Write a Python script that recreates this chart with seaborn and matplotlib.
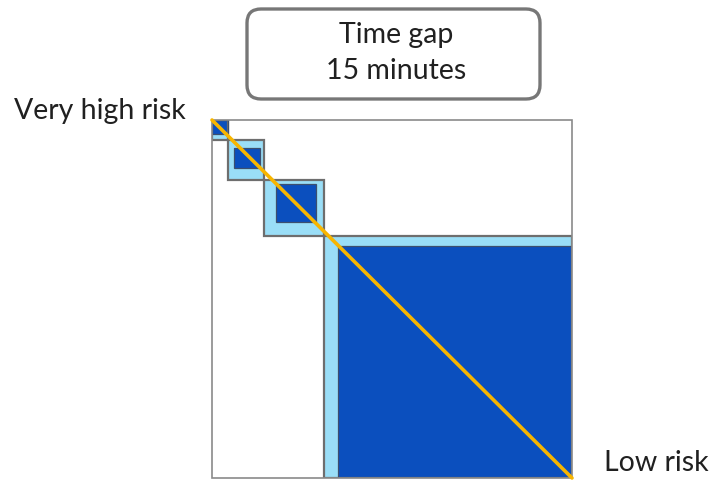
import numpy as np
import matplotlib
matplotlib.use("Agg")
import matplotlib.pyplot as plt
from matplotlib.colors import ListedColormap
from matplotlib.patches import Rectangle, FancyBboxPatch
from matplotlib.transforms import IdentityTransform
import seaborn as sns

# matrix size (cells) and the diagonal blocks, in cell units
n_cols, n_rows = 180, 179
outer_cols = [(0, 8), (8, 26), (26, 56), (56, 180)]
outer_rows = [(0, 10), (10, 30), (30, 58), (58, 179)]
inner_cols = [(0, 8), (11, 24), (32, 52), (63, 180)]
inner_rows = [(0, 7), (14, 24), (32, 51), (63, 179)]

title = "Time gap\n15 minutes"
top_label = "Very high risk"
bottom_label = "Low risk"

mat = np.zeros((n_rows, n_cols))
for (c0, c1), (r0, r1) in zip(outer_cols, outer_rows):
    mat[r0:r1, c0:c1] = 1
for (c0, c1), (r0, r1) in zip(inner_cols, inner_rows):
    mat[r0:r1, c0:c1] = 2

sns.set_style("white")
plt.rcParams['font.family'] = ['Lato', 'DejaVu Sans']

fig = plt.figure(figsize=(7.15, 4.9), dpi=100)
ax = fig.add_axes([212 / 715, 12 / 490, 360 / 715, 358 / 490])
cmap = ListedColormap(["white", "#9ADEF7", "#0B4FBE"])
sns.heatmap(mat, cmap=cmap, vmin=0, vmax=2, cbar=False,
            xticklabels=False, yticklabels=False, ax=ax)

edge = "#6E6E6E"
for (c0, c1), (r0, r1) in zip(outer_cols, outer_rows):
    ax.add_patch(Rectangle((c0, r0), c1 - c0, r1 - r0, fill=False,
                           ec=edge, lw=1.6, zorder=3))
for (c0, c1), (r0, r1) in zip(inner_cols, inner_rows):
    ax.add_patch(Rectangle((c0, r0), c1 - c0, r1 - r0, fill=False,
                           ec="#3D4F6E", lw=0.9, zorder=3))
ax.add_patch(Rectangle((0, 0), n_cols, n_rows, fill=False,
                       ec="#8A8A8A", lw=1.2, zorder=4, clip_on=False))

ax.plot([0, n_cols], [0, n_rows], color="#F7B500", lw=2.6,
        solid_capstyle="round", zorder=5, clip_on=False)

# title box (pixel coords)
box = FancyBboxPatch((247, 490 - 99), 293, 90,
                     boxstyle="round,pad=0,rounding_size=14",
                     fc="white", ec="#777777", lw=2.4,
                     transform=IdentityTransform())
fig.add_artist(box)
fig.text(396 / 715, 1 - 53 / 490, title, ha="center", va="center",
         fontsize=20.5, color="#202020", linespacing=1.5)

fig.text(186 / 715, 1 - 111 / 490, top_label, ha="right", va="center",
         fontsize=20.5, color="#202020")
fig.text(604 / 715, 1 - 463 / 490, bottom_label, ha="left", va="center",
         fontsize=20.5, color="#202020")

fig.savefig("out.png", dpi=100)
